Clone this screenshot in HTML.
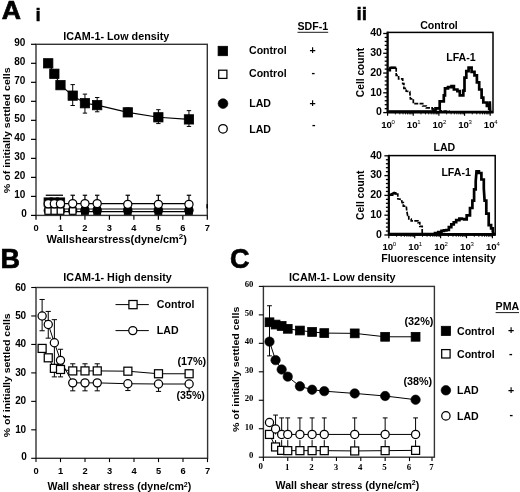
<!DOCTYPE html>
<html><head><meta charset="utf-8"><title>Figure</title>
<style>
html,body{margin:0;padding:0;background:#fff;}
body{width:520px;height:492px;overflow:hidden;font-family:"Liberation Sans", sans-serif;}
svg{display:block;filter:grayscale(1);}
</style></head><body>
<svg width="520" height="492" viewBox="0 0 520 492" shape-rendering="geometricPrecision">
<rect x="0" y="0" width="520" height="492" fill="#fff"/>
<text x="1.8" y="19.3" font-size="26.6" text-anchor="start" font-family='"Liberation Sans", sans-serif' font-weight="bold" stroke="#000" stroke-width="0.7">A</text>
<text x="35.4" y="20.7" font-size="19" text-anchor="start" font-family='"Liberation Sans", sans-serif' font-weight="bold" stroke="#000" stroke-width="0.4">i</text>
<text x="356.5" y="20" font-size="19.2" text-anchor="start" font-family='"Liberation Sans", sans-serif' font-weight="bold" stroke="#000" stroke-width="0.4">ii</text>
<text x="0.5" y="268" font-size="27" text-anchor="start" font-family='"Liberation Sans", sans-serif' font-weight="bold" stroke="#000" stroke-width="0.7">B</text>
<text x="230.1" y="267.6" font-size="27" text-anchor="start" font-family='"Liberation Sans", sans-serif' font-weight="bold" stroke="#000" stroke-width="0.7">C</text>
<line x1="72.71" y1="203.99" x2="72.71" y2="195.25" stroke="#000" stroke-width="1.2"/>
<line x1="70.51" y1="195.25" x2="74.91" y2="195.25" stroke="#000" stroke-width="1.2"/>
<line x1="84.94" y1="203.99" x2="84.94" y2="195.25" stroke="#000" stroke-width="1.2"/>
<line x1="82.74" y1="195.25" x2="87.14" y2="195.25" stroke="#000" stroke-width="1.2"/>
<line x1="97.18" y1="203.99" x2="97.18" y2="195.25" stroke="#000" stroke-width="1.2"/>
<line x1="94.98" y1="195.25" x2="99.38" y2="195.25" stroke="#000" stroke-width="1.2"/>
<line x1="127.77" y1="203.99" x2="127.77" y2="195.25" stroke="#000" stroke-width="1.2"/>
<line x1="125.57" y1="195.25" x2="129.97" y2="195.25" stroke="#000" stroke-width="1.2"/>
<line x1="158.36" y1="203.99" x2="158.36" y2="195.25" stroke="#000" stroke-width="1.2"/>
<line x1="156.16" y1="195.25" x2="160.56" y2="195.25" stroke="#000" stroke-width="1.2"/>
<line x1="188.95" y1="203.99" x2="188.95" y2="195.25" stroke="#000" stroke-width="1.2"/>
<line x1="186.75" y1="195.25" x2="191.15" y2="195.25" stroke="#000" stroke-width="1.2"/>
<line x1="45.74" y1="195.25" x2="62.97" y2="195.25" stroke="#000" stroke-width="1.3"/>
<polyline points="48.24,203.61 54.35,203.61 60.47,203.61 72.71,203.61 84.94,203.61 97.18,203.61 127.77,203.61 158.36,203.61 188.95,203.61" fill="none" stroke="#000" stroke-width="1.1"/>
<polyline points="48.24,208.94 54.35,208.94 60.47,208.94 72.71,208.94 84.94,208.94 97.18,208.94 127.77,208.94 158.36,208.94 188.95,208.94" fill="none" stroke="#000" stroke-width="1.1"/>
<polyline points="48.24,211.6 54.35,211.6 60.47,211.6 72.71,211.6 84.94,211.6 97.18,211.6 127.77,211.6 158.36,211.6 188.95,211.6" fill="none" stroke="#000" stroke-width="1.1"/>
<rect x="44.04" y="197.89" width="8.4" height="8.4" fill="#000" stroke="#000" stroke-width="0.8"/>
<rect x="50.15" y="197.89" width="8.4" height="8.4" fill="#000" stroke="#000" stroke-width="0.8"/>
<rect x="56.27" y="197.89" width="8.4" height="8.4" fill="#000" stroke="#000" stroke-width="0.8"/>
<circle cx="48.24" cy="210.46" r="4.3" fill="#000" stroke="#000" stroke-width="0.6"/>
<circle cx="54.35" cy="210.46" r="4.3" fill="#000" stroke="#000" stroke-width="0.6"/>
<circle cx="60.47" cy="210.46" r="4.3" fill="#000" stroke="#000" stroke-width="0.6"/>
<circle cx="72.71" cy="210.46" r="4.3" fill="#000" stroke="#000" stroke-width="0.6"/>
<rect x="44.94" y="207.73" width="6.6" height="6.6" fill="#fff" stroke="#000" stroke-width="1.25"/>
<rect x="51.05" y="207.73" width="6.6" height="6.6" fill="#fff" stroke="#000" stroke-width="1.25"/>
<rect x="57.17" y="207.73" width="6.6" height="6.6" fill="#fff" stroke="#000" stroke-width="1.25"/>
<rect x="69.41" y="207.73" width="6.6" height="6.6" fill="#fff" stroke="#000" stroke-width="1.25"/>
<rect x="81.64" y="207.73" width="6.6" height="6.6" fill="#fff" stroke="#000" stroke-width="1.25"/>
<rect x="93.88" y="207.73" width="6.6" height="6.6" fill="#fff" stroke="#000" stroke-width="1.25"/>
<rect x="124.47" y="207.73" width="6.6" height="6.6" fill="#fff" stroke="#000" stroke-width="1.25"/>
<rect x="155.06" y="207.73" width="6.6" height="6.6" fill="#fff" stroke="#000" stroke-width="1.25"/>
<rect x="185.65" y="207.73" width="6.6" height="6.6" fill="#fff" stroke="#000" stroke-width="1.25"/>
<circle cx="84.94" cy="210.27" r="4.4" fill="#000" stroke="#000" stroke-width="0.6"/>
<circle cx="97.18" cy="210.27" r="4.4" fill="#000" stroke="#000" stroke-width="0.6"/>
<circle cx="127.77" cy="210.27" r="4.4" fill="#000" stroke="#000" stroke-width="0.6"/>
<circle cx="158.36" cy="210.27" r="4.4" fill="#000" stroke="#000" stroke-width="0.6"/>
<circle cx="188.95" cy="210.27" r="4.4" fill="#000" stroke="#000" stroke-width="0.6"/>
<circle cx="48.24" cy="203.8" r="4.08" fill="#fff" stroke="#000" stroke-width="1.25"/>
<circle cx="54.35" cy="203.8" r="4.08" fill="#fff" stroke="#000" stroke-width="1.25"/>
<circle cx="60.47" cy="203.8" r="4.08" fill="#fff" stroke="#000" stroke-width="1.25"/>
<circle cx="72.71" cy="203.61" r="4.08" fill="#fff" stroke="#000" stroke-width="1.25"/>
<circle cx="84.94" cy="203.61" r="4.08" fill="#fff" stroke="#000" stroke-width="1.25"/>
<circle cx="97.18" cy="203.61" r="4.08" fill="#fff" stroke="#000" stroke-width="1.25"/>
<circle cx="127.77" cy="204.37" r="4.08" fill="#fff" stroke="#000" stroke-width="1.25"/>
<circle cx="158.36" cy="204.37" r="4.08" fill="#fff" stroke="#000" stroke-width="1.25"/>
<circle cx="188.95" cy="204.37" r="4.08" fill="#fff" stroke="#000" stroke-width="1.25"/>
<polyline points="48.24,63.31 54.35,73.77 60.47,85.17 72.71,95.63 84.94,103.23 97.18,105.14 127.77,112.36 158.36,117.3 188.95,119.39" fill="none" stroke="#000" stroke-width="1.1"/>
<line x1="72.71" y1="95.63" x2="72.71" y2="84.6" stroke="#000" stroke-width="1"/>
<line x1="70.51" y1="84.6" x2="74.91" y2="84.6" stroke="#000" stroke-width="1"/>
<line x1="72.71" y1="95.63" x2="72.71" y2="105.52" stroke="#000" stroke-width="1"/>
<line x1="70.51" y1="105.52" x2="74.91" y2="105.52" stroke="#000" stroke-width="1"/>
<line x1="84.94" y1="103.23" x2="84.94" y2="94.11" stroke="#000" stroke-width="1"/>
<line x1="82.74" y1="94.11" x2="87.14" y2="94.11" stroke="#000" stroke-width="1"/>
<line x1="84.94" y1="103.23" x2="84.94" y2="113.12" stroke="#000" stroke-width="1"/>
<line x1="82.74" y1="113.12" x2="87.14" y2="113.12" stroke="#000" stroke-width="1"/>
<line x1="97.18" y1="105.14" x2="97.18" y2="97.53" stroke="#000" stroke-width="1"/>
<line x1="94.98" y1="97.53" x2="99.38" y2="97.53" stroke="#000" stroke-width="1"/>
<line x1="97.18" y1="105.14" x2="97.18" y2="111.79" stroke="#000" stroke-width="1"/>
<line x1="94.98" y1="111.79" x2="99.38" y2="111.79" stroke="#000" stroke-width="1"/>
<line x1="127.77" y1="112.36" x2="127.77" y2="107.99" stroke="#000" stroke-width="1"/>
<line x1="125.57" y1="107.99" x2="129.97" y2="107.99" stroke="#000" stroke-width="1"/>
<line x1="158.36" y1="117.3" x2="158.36" y2="109.7" stroke="#000" stroke-width="1"/>
<line x1="156.16" y1="109.7" x2="160.56" y2="109.7" stroke="#000" stroke-width="1"/>
<line x1="158.36" y1="117.3" x2="158.36" y2="123.58" stroke="#000" stroke-width="1"/>
<line x1="156.16" y1="123.58" x2="160.56" y2="123.58" stroke="#000" stroke-width="1"/>
<line x1="188.95" y1="119.39" x2="188.95" y2="110.65" stroke="#000" stroke-width="1"/>
<line x1="186.75" y1="110.65" x2="191.15" y2="110.65" stroke="#000" stroke-width="1"/>
<line x1="188.95" y1="119.39" x2="188.95" y2="126.43" stroke="#000" stroke-width="1"/>
<line x1="186.75" y1="126.43" x2="191.15" y2="126.43" stroke="#000" stroke-width="1"/>
<rect x="43.59" y="58.66" width="9.3" height="9.3" fill="#000" stroke="#000" stroke-width="0.8"/>
<rect x="49.7" y="69.12" width="9.3" height="9.3" fill="#000" stroke="#000" stroke-width="0.8"/>
<rect x="55.82" y="80.52" width="9.3" height="9.3" fill="#000" stroke="#000" stroke-width="0.8"/>
<rect x="68.06" y="90.98" width="9.3" height="9.3" fill="#000" stroke="#000" stroke-width="0.8"/>
<rect x="80.29" y="98.58" width="9.3" height="9.3" fill="#000" stroke="#000" stroke-width="0.8"/>
<rect x="92.53" y="100.49" width="9.3" height="9.3" fill="#000" stroke="#000" stroke-width="0.8"/>
<rect x="123.12" y="107.71" width="9.3" height="9.3" fill="#000" stroke="#000" stroke-width="0.8"/>
<rect x="153.71" y="112.65" width="9.3" height="9.3" fill="#000" stroke="#000" stroke-width="0.8"/>
<rect x="184.3" y="114.74" width="9.3" height="9.3" fill="#000" stroke="#000" stroke-width="0.8"/>
<rect x="36" y="44.3" width="171.3" height="171.1" fill="none" stroke="#333" stroke-width="1.4"/>
<rect x="206.4" y="204.2" width="1.6" height="4.2" fill="#000" stroke="none" stroke-width="0"/>
<line x1="31" y1="215.4" x2="36" y2="215.4" stroke="#000" stroke-width="1.2"/>
<text x="26.9" y="216.7" font-size="10" text-anchor="end" font-family='"Liberation Sans", sans-serif' font-weight="bold">0</text>
<line x1="31" y1="196.39" x2="36" y2="196.39" stroke="#000" stroke-width="1.2"/>
<text x="25.3" y="197.69" font-size="10" text-anchor="end" font-family='"Liberation Sans", sans-serif' font-weight="bold">10</text>
<line x1="31" y1="177.38" x2="36" y2="177.38" stroke="#000" stroke-width="1.2"/>
<text x="25.3" y="178.68" font-size="10" text-anchor="end" font-family='"Liberation Sans", sans-serif' font-weight="bold">20</text>
<line x1="31" y1="158.37" x2="36" y2="158.37" stroke="#000" stroke-width="1.2"/>
<text x="25.3" y="159.67" font-size="10" text-anchor="end" font-family='"Liberation Sans", sans-serif' font-weight="bold">30</text>
<line x1="31" y1="139.36" x2="36" y2="139.36" stroke="#000" stroke-width="1.2"/>
<text x="25.3" y="140.66" font-size="10" text-anchor="end" font-family='"Liberation Sans", sans-serif' font-weight="bold">40</text>
<line x1="31" y1="120.34" x2="36" y2="120.34" stroke="#000" stroke-width="1.2"/>
<text x="25.3" y="121.64" font-size="10" text-anchor="end" font-family='"Liberation Sans", sans-serif' font-weight="bold">50</text>
<line x1="31" y1="101.33" x2="36" y2="101.33" stroke="#000" stroke-width="1.2"/>
<text x="25.3" y="102.63" font-size="10" text-anchor="end" font-family='"Liberation Sans", sans-serif' font-weight="bold">60</text>
<line x1="31" y1="82.32" x2="36" y2="82.32" stroke="#000" stroke-width="1.2"/>
<text x="25.3" y="83.62" font-size="10" text-anchor="end" font-family='"Liberation Sans", sans-serif' font-weight="bold">70</text>
<line x1="31" y1="63.31" x2="36" y2="63.31" stroke="#000" stroke-width="1.2"/>
<text x="25.3" y="64.61" font-size="10" text-anchor="end" font-family='"Liberation Sans", sans-serif' font-weight="bold">80</text>
<line x1="31" y1="44.3" x2="36" y2="44.3" stroke="#000" stroke-width="1.2"/>
<text x="25.3" y="45.6" font-size="10" text-anchor="end" font-family='"Liberation Sans", sans-serif' font-weight="bold">90</text>
<line x1="36" y1="215.4" x2="36" y2="219.7" stroke="#000" stroke-width="1.2"/>
<text x="36" y="231.2" font-size="9.3" text-anchor="middle" font-family='"Liberation Sans", sans-serif' font-weight="bold">0</text>
<line x1="60.47" y1="215.4" x2="60.47" y2="219.7" stroke="#000" stroke-width="1.2"/>
<text x="60.47" y="231.2" font-size="9.3" text-anchor="middle" font-family='"Liberation Sans", sans-serif' font-weight="bold">1</text>
<line x1="84.94" y1="215.4" x2="84.94" y2="219.7" stroke="#000" stroke-width="1.2"/>
<text x="84.94" y="231.2" font-size="9.3" text-anchor="middle" font-family='"Liberation Sans", sans-serif' font-weight="bold">2</text>
<line x1="109.41" y1="215.4" x2="109.41" y2="219.7" stroke="#000" stroke-width="1.2"/>
<text x="109.41" y="231.2" font-size="9.3" text-anchor="middle" font-family='"Liberation Sans", sans-serif' font-weight="bold">3</text>
<line x1="133.89" y1="215.4" x2="133.89" y2="219.7" stroke="#000" stroke-width="1.2"/>
<text x="133.89" y="231.2" font-size="9.3" text-anchor="middle" font-family='"Liberation Sans", sans-serif' font-weight="bold">4</text>
<line x1="158.36" y1="215.4" x2="158.36" y2="219.7" stroke="#000" stroke-width="1.2"/>
<text x="158.36" y="231.2" font-size="9.3" text-anchor="middle" font-family='"Liberation Sans", sans-serif' font-weight="bold">5</text>
<line x1="182.83" y1="215.4" x2="182.83" y2="219.7" stroke="#000" stroke-width="1.2"/>
<text x="182.83" y="231.2" font-size="9.3" text-anchor="middle" font-family='"Liberation Sans", sans-serif' font-weight="bold">6</text>
<line x1="207.3" y1="215.4" x2="207.3" y2="219.7" stroke="#000" stroke-width="1.2"/>
<text x="207.3" y="231.2" font-size="9.3" text-anchor="middle" font-family='"Liberation Sans", sans-serif' font-weight="bold">7</text>
<text x="116.3" y="40.3" font-size="10.3" text-anchor="middle" font-family='"Liberation Sans", sans-serif' font-weight="bold" textLength="106" lengthAdjust="spacingAndGlyphs">ICAM-1- Low density</text>
<text x="46.6" y="243" font-size="11" text-anchor="start" font-family='"Liberation Sans", sans-serif' font-weight="bold">Wallshearstress(dyne/cm<tspan font-size="8" dy="-4">2</tspan><tspan dy="4">)</tspan></text>
<text x="10.2" y="130.3" font-size="9.5" text-anchor="middle" font-family='"Liberation Sans", sans-serif' font-weight="bold" textLength="126" lengthAdjust="spacingAndGlyphs" transform="rotate(-90 10.2 130.3)">% of initially settled cells</text>
<text x="297.5" y="30.2" font-size="10.6" text-anchor="start" font-family='"Liberation Sans", sans-serif' font-weight="bold">SDF-1</text>
<line x1="297.5" y1="32.3" x2="328.2" y2="32.3" stroke="#000" stroke-width="0.9"/>
<rect x="218.1" y="46.3" width="9.4" height="9.4" fill="#000" stroke="#000" stroke-width="0.8"/>
<text x="249" y="54.2" font-size="10.6" text-anchor="start" font-family='"Liberation Sans", sans-serif' font-weight="bold">Control</text>
<text x="312.6" y="54.4" font-size="10.6" text-anchor="middle" font-family='"Liberation Sans", sans-serif' font-weight="bold">+</text>
<rect x="218.7" y="70.2" width="8.2" height="8.2" fill="#fff" stroke="#000" stroke-width="1.25"/>
<text x="249" y="77" font-size="10.6" text-anchor="start" font-family='"Liberation Sans", sans-serif' font-weight="bold">Control</text>
<text x="313.2" y="76.2" font-size="10.6" text-anchor="middle" font-family='"Liberation Sans", sans-serif' font-weight="bold">-</text>
<circle cx="223" cy="103.6" r="4.9" fill="#000" stroke="#000" stroke-width="0.6"/>
<text x="249.2" y="107.2" font-size="10.6" text-anchor="start" font-family='"Liberation Sans", sans-serif' font-weight="bold">LAD</text>
<text x="312.6" y="107" font-size="10.6" text-anchor="middle" font-family='"Liberation Sans", sans-serif' font-weight="bold">+</text>
<circle cx="223" cy="128.8" r="4.28" fill="#fff" stroke="#000" stroke-width="1.25"/>
<text x="249.2" y="133" font-size="10.6" text-anchor="start" font-family='"Liberation Sans", sans-serif' font-weight="bold">LAD</text>
<text x="313.8" y="127.6" font-size="10.6" text-anchor="middle" font-family='"Liberation Sans", sans-serif' font-weight="bold">-</text>
<polyline points="388.5,70.6 390.3,70.6 390.3,67.7 396.2,67.7 396.2,75.3 398.6,75.3 398.6,78.9 402.7,78.9 402.7,83.6 403.9,83.6 403.9,88.3 406.2,88.3 406.2,91.2 409.8,91.6 410.4,98.9 413.3,98.9 413.3,103.6 418,103.6 422.7,103.6 422.7,106 426.3,106 426.3,107.8 432.2,107.8 432.2,109 436.9,108.3 440,108.3 440,110.8 446,111.2 450,111.4" fill="none" stroke="#000" stroke-width="1.7" stroke-dasharray="4,1.3" stroke-linejoin="miter"/>
<polyline points="388.5,70.6 390.3,67.7 396.2,67.7" fill="none" stroke="#000" stroke-width="2.4"/>
<polyline points="388.5,111.6 430,111.6 433.5,111.6 433.5,110.5 435.5,110.5 435.5,108.3 439.7,108.3 439.7,101.3 443.8,101.3 443.8,95.4 445,95.4 445,88.3 448,88.3 448,87.1 451.5,87.1 451.5,86.2 453.9,86.2 453.9,89.5 457.4,89.5 457.4,91.2 459.8,91.2 459.8,95.4 463.3,95.4 463.3,90.7 464.5,90.7 464.5,77.7 466.3,77.7 466.3,71.2 468.6,71.2 468.6,67.7 471.6,67.7 471.6,71.8 474.5,71.8 474.5,75.3 476.9,75.3 476.9,82.4 479.2,82.4 479.2,89.5 481.6,89.5 481.6,97.7 483.3,97.7 483.3,102.5 486.9,102.5 486.9,106 489.2,106 489.2,110.1 489.8,101.3 490.2,112" fill="none" stroke="#000" stroke-width="2.7" stroke-linejoin="miter"/>
<rect x="387.6" y="32.4" width="105.4" height="80.2" fill="none" stroke="#000" stroke-width="1.5"/>
<line x1="387.6" y1="31.7" x2="387.6" y2="112.6" stroke="#000" stroke-width="2.1"/>
<line x1="387.6" y1="112" x2="493" y2="112" stroke="#000" stroke-width="2.6"/>
<line x1="383.2" y1="112.6" x2="387.6" y2="112.6" stroke="#000" stroke-width="1.3"/>
<line x1="384.7" y1="108.64" x2="387.6" y2="108.64" stroke="#000" stroke-width="1.3"/>
<line x1="384.7" y1="104.69" x2="387.6" y2="104.69" stroke="#000" stroke-width="1.3"/>
<line x1="384.7" y1="100.73" x2="387.6" y2="100.73" stroke="#000" stroke-width="1.3"/>
<line x1="384.7" y1="96.78" x2="387.6" y2="96.78" stroke="#000" stroke-width="1.3"/>
<line x1="383.2" y1="92.82" x2="387.6" y2="92.82" stroke="#000" stroke-width="1.3"/>
<line x1="384.7" y1="88.87" x2="387.6" y2="88.87" stroke="#000" stroke-width="1.3"/>
<line x1="384.7" y1="84.91" x2="387.6" y2="84.91" stroke="#000" stroke-width="1.3"/>
<line x1="384.7" y1="80.96" x2="387.6" y2="80.96" stroke="#000" stroke-width="1.3"/>
<line x1="384.7" y1="77" x2="387.6" y2="77" stroke="#000" stroke-width="1.3"/>
<line x1="383.2" y1="73.05" x2="387.6" y2="73.05" stroke="#000" stroke-width="1.3"/>
<line x1="384.7" y1="69.09" x2="387.6" y2="69.09" stroke="#000" stroke-width="1.3"/>
<line x1="384.7" y1="65.14" x2="387.6" y2="65.14" stroke="#000" stroke-width="1.3"/>
<line x1="384.7" y1="61.18" x2="387.6" y2="61.18" stroke="#000" stroke-width="1.3"/>
<line x1="384.7" y1="57.23" x2="387.6" y2="57.23" stroke="#000" stroke-width="1.3"/>
<line x1="383.2" y1="53.27" x2="387.6" y2="53.27" stroke="#000" stroke-width="1.3"/>
<line x1="384.7" y1="49.32" x2="387.6" y2="49.32" stroke="#000" stroke-width="1.3"/>
<line x1="384.7" y1="45.37" x2="387.6" y2="45.37" stroke="#000" stroke-width="1.3"/>
<line x1="384.7" y1="41.41" x2="387.6" y2="41.41" stroke="#000" stroke-width="1.3"/>
<line x1="384.7" y1="37.45" x2="387.6" y2="37.45" stroke="#000" stroke-width="1.3"/>
<line x1="383.2" y1="33.5" x2="387.6" y2="33.5" stroke="#000" stroke-width="1.3"/>
<text x="382" y="115.4" font-size="10.6" text-anchor="end" font-family='"Liberation Sans", sans-serif' font-weight="bold">0</text>
<text x="382" y="95.62" font-size="10.6" text-anchor="end" font-family='"Liberation Sans", sans-serif' font-weight="bold">10</text>
<text x="382" y="75.85" font-size="10.6" text-anchor="end" font-family='"Liberation Sans", sans-serif' font-weight="bold">20</text>
<text x="382" y="56.07" font-size="10.6" text-anchor="end" font-family='"Liberation Sans", sans-serif' font-weight="bold">30</text>
<text x="382" y="36.3" font-size="10.6" text-anchor="end" font-family='"Liberation Sans", sans-serif' font-weight="bold">40</text>
<line x1="387.6" y1="112.6" x2="387.6" y2="115.8" stroke="#000" stroke-width="1.2"/>
<line x1="395.32" y1="112.6" x2="395.32" y2="114.4" stroke="#000" stroke-width="0.9"/>
<line x1="399.84" y1="112.6" x2="399.84" y2="114.4" stroke="#000" stroke-width="0.9"/>
<line x1="403.04" y1="112.6" x2="403.04" y2="114.4" stroke="#000" stroke-width="0.9"/>
<line x1="405.53" y1="112.6" x2="405.53" y2="114.4" stroke="#000" stroke-width="0.9"/>
<line x1="407.56" y1="112.6" x2="407.56" y2="114.4" stroke="#000" stroke-width="0.9"/>
<line x1="409.28" y1="112.6" x2="409.28" y2="114.4" stroke="#000" stroke-width="0.9"/>
<line x1="410.76" y1="112.6" x2="410.76" y2="114.4" stroke="#000" stroke-width="0.9"/>
<line x1="412.08" y1="112.6" x2="412.08" y2="114.4" stroke="#000" stroke-width="0.9"/>
<text x="381.2" y="127.6" font-size="9.6" text-anchor="start" font-family='"Liberation Sans", sans-serif' font-weight="bold">10</text>
<text x="391.6" y="123.6" font-size="6" text-anchor="start" font-family='"Liberation Sans", sans-serif'>0</text>
<line x1="413.25" y1="112.6" x2="413.25" y2="115.8" stroke="#000" stroke-width="1.2"/>
<line x1="420.97" y1="112.6" x2="420.97" y2="114.4" stroke="#000" stroke-width="0.9"/>
<line x1="425.49" y1="112.6" x2="425.49" y2="114.4" stroke="#000" stroke-width="0.9"/>
<line x1="428.69" y1="112.6" x2="428.69" y2="114.4" stroke="#000" stroke-width="0.9"/>
<line x1="431.18" y1="112.6" x2="431.18" y2="114.4" stroke="#000" stroke-width="0.9"/>
<line x1="433.21" y1="112.6" x2="433.21" y2="114.4" stroke="#000" stroke-width="0.9"/>
<line x1="434.93" y1="112.6" x2="434.93" y2="114.4" stroke="#000" stroke-width="0.9"/>
<line x1="436.41" y1="112.6" x2="436.41" y2="114.4" stroke="#000" stroke-width="0.9"/>
<line x1="437.73" y1="112.6" x2="437.73" y2="114.4" stroke="#000" stroke-width="0.9"/>
<text x="406.85" y="127.6" font-size="9.6" text-anchor="start" font-family='"Liberation Sans", sans-serif' font-weight="bold">10</text>
<text x="417.25" y="123.6" font-size="6" text-anchor="start" font-family='"Liberation Sans", sans-serif'>1</text>
<line x1="438.9" y1="112.6" x2="438.9" y2="115.8" stroke="#000" stroke-width="1.2"/>
<line x1="446.62" y1="112.6" x2="446.62" y2="114.4" stroke="#000" stroke-width="0.9"/>
<line x1="451.14" y1="112.6" x2="451.14" y2="114.4" stroke="#000" stroke-width="0.9"/>
<line x1="454.34" y1="112.6" x2="454.34" y2="114.4" stroke="#000" stroke-width="0.9"/>
<line x1="456.83" y1="112.6" x2="456.83" y2="114.4" stroke="#000" stroke-width="0.9"/>
<line x1="458.86" y1="112.6" x2="458.86" y2="114.4" stroke="#000" stroke-width="0.9"/>
<line x1="460.58" y1="112.6" x2="460.58" y2="114.4" stroke="#000" stroke-width="0.9"/>
<line x1="462.06" y1="112.6" x2="462.06" y2="114.4" stroke="#000" stroke-width="0.9"/>
<line x1="463.38" y1="112.6" x2="463.38" y2="114.4" stroke="#000" stroke-width="0.9"/>
<text x="432.5" y="127.6" font-size="9.6" text-anchor="start" font-family='"Liberation Sans", sans-serif' font-weight="bold">10</text>
<text x="442.9" y="123.6" font-size="6" text-anchor="start" font-family='"Liberation Sans", sans-serif'>2</text>
<line x1="464.55" y1="112.6" x2="464.55" y2="115.8" stroke="#000" stroke-width="1.2"/>
<line x1="472.27" y1="112.6" x2="472.27" y2="114.4" stroke="#000" stroke-width="0.9"/>
<line x1="476.79" y1="112.6" x2="476.79" y2="114.4" stroke="#000" stroke-width="0.9"/>
<line x1="479.99" y1="112.6" x2="479.99" y2="114.4" stroke="#000" stroke-width="0.9"/>
<line x1="482.48" y1="112.6" x2="482.48" y2="114.4" stroke="#000" stroke-width="0.9"/>
<line x1="484.51" y1="112.6" x2="484.51" y2="114.4" stroke="#000" stroke-width="0.9"/>
<line x1="486.23" y1="112.6" x2="486.23" y2="114.4" stroke="#000" stroke-width="0.9"/>
<line x1="487.71" y1="112.6" x2="487.71" y2="114.4" stroke="#000" stroke-width="0.9"/>
<line x1="489.03" y1="112.6" x2="489.03" y2="114.4" stroke="#000" stroke-width="0.9"/>
<text x="458.15" y="127.6" font-size="9.6" text-anchor="start" font-family='"Liberation Sans", sans-serif' font-weight="bold">10</text>
<text x="468.55" y="123.6" font-size="6" text-anchor="start" font-family='"Liberation Sans", sans-serif'>3</text>
<line x1="490.2" y1="112.6" x2="490.2" y2="115.8" stroke="#000" stroke-width="1.2"/>
<text x="483.8" y="127.6" font-size="9.6" text-anchor="start" font-family='"Liberation Sans", sans-serif' font-weight="bold">10</text>
<text x="494.2" y="123.6" font-size="6" text-anchor="start" font-family='"Liberation Sans", sans-serif'>4</text>
<text x="439" y="29.4" font-size="10.6" text-anchor="middle" font-family='"Liberation Sans", sans-serif' font-weight="bold">Control</text>
<text x="446.2" y="61.4" font-size="10.6" text-anchor="start" font-family='"Liberation Sans", sans-serif' font-weight="bold">LFA-1</text>
<text x="364.4" y="72.5" font-size="10.2" text-anchor="middle" font-family='"Liberation Sans", sans-serif' font-weight="bold" transform="rotate(-90 364.4 72.5)">Cell count</text>
<polyline points="389.5,195.2 394.1,195.2 394.1,192.8 396.6,192.8 396.6,194 397.8,194 397.8,198.9 401.5,199.5 402.1,202.6 403.3,202.6 403.3,206.2 406.3,206.2 406.7,210.5 407.6,215.4 408.8,215.4 408.8,219 411.2,219 411.2,220.9 414.9,220.9 417.9,220.9 417.9,222.7 419.8,222.7 419.8,226.3 422.2,226.3 422.2,230 422.2,233.7 430,234 440,234" fill="none" stroke="#000" stroke-width="1.7" stroke-dasharray="4,1.3" stroke-linejoin="miter"/>
<polyline points="389.5,195.2 394.1,192.8 396.6,194" fill="none" stroke="#000" stroke-width="2.4"/>
<polyline points="389.5,234.2 435,234.2 435,233.2 438.25,233.2 438.25,232 441.5,232 441.5,230.8 443.95,230.8 443.95,230.4 446.4,230.4 446.4,230 448.85,230 448.85,227.15 451.3,227.15 451.3,224.3 453.75,224.3 453.75,222.25 456.2,222.25 456.2,220.2 459.4,220.2 459.4,218.6 461.85,218.6 461.85,219 464.3,219 464.3,219.4 466.7,219.4 466.7,215.3 470,215.3 470,208 472.4,208 472.4,200.7 474.1,200.7 474.1,189.3 475.7,189.3 475.7,181.2 476.5,171.4 478.9,171.4 478.9,173 481.4,173 481.4,179.5 483.8,179.5 483.8,188.5 484.6,200.7 486.3,200.7 486.3,213.7 488.7,213.7 488.7,225.1 491.1,225.1 491.1,228.3 492.8,228.3 492.8,231.6 493.5,234" fill="none" stroke="#000" stroke-width="2.7" stroke-linejoin="miter"/>
<rect x="388.8" y="155.6" width="106.4" height="79.4" fill="none" stroke="#000" stroke-width="1.5"/>
<line x1="388.8" y1="154.9" x2="388.8" y2="235" stroke="#000" stroke-width="2.1"/>
<line x1="388.8" y1="234.4" x2="495.2" y2="234.4" stroke="#000" stroke-width="2.6"/>
<line x1="384.4" y1="235" x2="388.8" y2="235" stroke="#000" stroke-width="1.3"/>
<line x1="385.9" y1="231.04" x2="388.8" y2="231.04" stroke="#000" stroke-width="1.3"/>
<line x1="385.9" y1="227.08" x2="388.8" y2="227.08" stroke="#000" stroke-width="1.3"/>
<line x1="385.9" y1="223.12" x2="388.8" y2="223.12" stroke="#000" stroke-width="1.3"/>
<line x1="385.9" y1="219.16" x2="388.8" y2="219.16" stroke="#000" stroke-width="1.3"/>
<line x1="384.4" y1="215.2" x2="388.8" y2="215.2" stroke="#000" stroke-width="1.3"/>
<line x1="385.9" y1="211.24" x2="388.8" y2="211.24" stroke="#000" stroke-width="1.3"/>
<line x1="385.9" y1="207.28" x2="388.8" y2="207.28" stroke="#000" stroke-width="1.3"/>
<line x1="385.9" y1="203.32" x2="388.8" y2="203.32" stroke="#000" stroke-width="1.3"/>
<line x1="385.9" y1="199.36" x2="388.8" y2="199.36" stroke="#000" stroke-width="1.3"/>
<line x1="384.4" y1="195.4" x2="388.8" y2="195.4" stroke="#000" stroke-width="1.3"/>
<line x1="385.9" y1="191.44" x2="388.8" y2="191.44" stroke="#000" stroke-width="1.3"/>
<line x1="385.9" y1="187.48" x2="388.8" y2="187.48" stroke="#000" stroke-width="1.3"/>
<line x1="385.9" y1="183.52" x2="388.8" y2="183.52" stroke="#000" stroke-width="1.3"/>
<line x1="385.9" y1="179.56" x2="388.8" y2="179.56" stroke="#000" stroke-width="1.3"/>
<line x1="384.4" y1="175.6" x2="388.8" y2="175.6" stroke="#000" stroke-width="1.3"/>
<line x1="385.9" y1="171.64" x2="388.8" y2="171.64" stroke="#000" stroke-width="1.3"/>
<line x1="385.9" y1="167.68" x2="388.8" y2="167.68" stroke="#000" stroke-width="1.3"/>
<line x1="385.9" y1="163.72" x2="388.8" y2="163.72" stroke="#000" stroke-width="1.3"/>
<line x1="385.9" y1="159.76" x2="388.8" y2="159.76" stroke="#000" stroke-width="1.3"/>
<line x1="384.4" y1="155.8" x2="388.8" y2="155.8" stroke="#000" stroke-width="1.3"/>
<text x="382" y="237.8" font-size="10.6" text-anchor="end" font-family='"Liberation Sans", sans-serif' font-weight="bold">0</text>
<text x="382" y="218" font-size="10.6" text-anchor="end" font-family='"Liberation Sans", sans-serif' font-weight="bold">10</text>
<text x="382" y="198.2" font-size="10.6" text-anchor="end" font-family='"Liberation Sans", sans-serif' font-weight="bold">20</text>
<text x="382" y="178.4" font-size="10.6" text-anchor="end" font-family='"Liberation Sans", sans-serif' font-weight="bold">30</text>
<text x="382" y="158.6" font-size="10.6" text-anchor="end" font-family='"Liberation Sans", sans-serif' font-weight="bold">40</text>
<line x1="388.8" y1="235" x2="388.8" y2="238.2" stroke="#000" stroke-width="1.2"/>
<line x1="396.6" y1="235" x2="396.6" y2="236.8" stroke="#000" stroke-width="0.9"/>
<line x1="401.16" y1="235" x2="401.16" y2="236.8" stroke="#000" stroke-width="0.9"/>
<line x1="404.39" y1="235" x2="404.39" y2="236.8" stroke="#000" stroke-width="0.9"/>
<line x1="406.9" y1="235" x2="406.9" y2="236.8" stroke="#000" stroke-width="0.9"/>
<line x1="408.95" y1="235" x2="408.95" y2="236.8" stroke="#000" stroke-width="0.9"/>
<line x1="410.69" y1="235" x2="410.69" y2="236.8" stroke="#000" stroke-width="0.9"/>
<line x1="412.19" y1="235" x2="412.19" y2="236.8" stroke="#000" stroke-width="0.9"/>
<line x1="413.51" y1="235" x2="413.51" y2="236.8" stroke="#000" stroke-width="0.9"/>
<text x="382.4" y="250" font-size="9.6" text-anchor="start" font-family='"Liberation Sans", sans-serif' font-weight="bold">10</text>
<text x="392.8" y="246" font-size="6" text-anchor="start" font-family='"Liberation Sans", sans-serif'>0</text>
<line x1="414.7" y1="235" x2="414.7" y2="238.2" stroke="#000" stroke-width="1.2"/>
<line x1="422.5" y1="235" x2="422.5" y2="236.8" stroke="#000" stroke-width="0.9"/>
<line x1="427.06" y1="235" x2="427.06" y2="236.8" stroke="#000" stroke-width="0.9"/>
<line x1="430.29" y1="235" x2="430.29" y2="236.8" stroke="#000" stroke-width="0.9"/>
<line x1="432.8" y1="235" x2="432.8" y2="236.8" stroke="#000" stroke-width="0.9"/>
<line x1="434.85" y1="235" x2="434.85" y2="236.8" stroke="#000" stroke-width="0.9"/>
<line x1="436.59" y1="235" x2="436.59" y2="236.8" stroke="#000" stroke-width="0.9"/>
<line x1="438.09" y1="235" x2="438.09" y2="236.8" stroke="#000" stroke-width="0.9"/>
<line x1="439.41" y1="235" x2="439.41" y2="236.8" stroke="#000" stroke-width="0.9"/>
<text x="408.3" y="250" font-size="9.6" text-anchor="start" font-family='"Liberation Sans", sans-serif' font-weight="bold">10</text>
<text x="418.7" y="246" font-size="6" text-anchor="start" font-family='"Liberation Sans", sans-serif'>1</text>
<line x1="440.6" y1="235" x2="440.6" y2="238.2" stroke="#000" stroke-width="1.2"/>
<line x1="448.4" y1="235" x2="448.4" y2="236.8" stroke="#000" stroke-width="0.9"/>
<line x1="452.96" y1="235" x2="452.96" y2="236.8" stroke="#000" stroke-width="0.9"/>
<line x1="456.19" y1="235" x2="456.19" y2="236.8" stroke="#000" stroke-width="0.9"/>
<line x1="458.7" y1="235" x2="458.7" y2="236.8" stroke="#000" stroke-width="0.9"/>
<line x1="460.75" y1="235" x2="460.75" y2="236.8" stroke="#000" stroke-width="0.9"/>
<line x1="462.49" y1="235" x2="462.49" y2="236.8" stroke="#000" stroke-width="0.9"/>
<line x1="463.99" y1="235" x2="463.99" y2="236.8" stroke="#000" stroke-width="0.9"/>
<line x1="465.31" y1="235" x2="465.31" y2="236.8" stroke="#000" stroke-width="0.9"/>
<text x="434.2" y="250" font-size="9.6" text-anchor="start" font-family='"Liberation Sans", sans-serif' font-weight="bold">10</text>
<text x="444.6" y="246" font-size="6" text-anchor="start" font-family='"Liberation Sans", sans-serif'>2</text>
<line x1="466.5" y1="235" x2="466.5" y2="238.2" stroke="#000" stroke-width="1.2"/>
<line x1="474.3" y1="235" x2="474.3" y2="236.8" stroke="#000" stroke-width="0.9"/>
<line x1="478.86" y1="235" x2="478.86" y2="236.8" stroke="#000" stroke-width="0.9"/>
<line x1="482.09" y1="235" x2="482.09" y2="236.8" stroke="#000" stroke-width="0.9"/>
<line x1="484.6" y1="235" x2="484.6" y2="236.8" stroke="#000" stroke-width="0.9"/>
<line x1="486.65" y1="235" x2="486.65" y2="236.8" stroke="#000" stroke-width="0.9"/>
<line x1="488.39" y1="235" x2="488.39" y2="236.8" stroke="#000" stroke-width="0.9"/>
<line x1="489.89" y1="235" x2="489.89" y2="236.8" stroke="#000" stroke-width="0.9"/>
<line x1="491.21" y1="235" x2="491.21" y2="236.8" stroke="#000" stroke-width="0.9"/>
<text x="460.1" y="250" font-size="9.6" text-anchor="start" font-family='"Liberation Sans", sans-serif' font-weight="bold">10</text>
<text x="470.5" y="246" font-size="6" text-anchor="start" font-family='"Liberation Sans", sans-serif'>3</text>
<line x1="492.4" y1="235" x2="492.4" y2="238.2" stroke="#000" stroke-width="1.2"/>
<text x="486" y="250" font-size="9.6" text-anchor="start" font-family='"Liberation Sans", sans-serif' font-weight="bold">10</text>
<text x="496.4" y="246" font-size="6" text-anchor="start" font-family='"Liberation Sans", sans-serif'>4</text>
<text x="444.4" y="151.4" font-size="10.6" text-anchor="middle" font-family='"Liberation Sans", sans-serif' font-weight="bold">LAD</text>
<text x="441.4" y="175.6" font-size="10.6" text-anchor="start" font-family='"Liberation Sans", sans-serif' font-weight="bold">LFA-1</text>
<text x="364.4" y="195.3" font-size="10.2" text-anchor="middle" font-family='"Liberation Sans", sans-serif' font-weight="bold" transform="rotate(-90 364.4 195.3)">Cell count</text>
<text x="438.6" y="262.2" font-size="10.6" text-anchor="middle" font-family='"Liberation Sans", sans-serif' font-weight="bold">Fluorescence intensity</text>
<line x1="42.12" y1="315.97" x2="42.12" y2="299.46" stroke="#000" stroke-width="1"/>
<line x1="39.52" y1="299.46" x2="44.73" y2="299.46" stroke="#000" stroke-width="1"/>
<line x1="42.12" y1="315.97" x2="42.12" y2="330.77" stroke="#000" stroke-width="1"/>
<line x1="39.52" y1="330.77" x2="44.73" y2="330.77" stroke="#000" stroke-width="1"/>
<line x1="48.25" y1="324.51" x2="48.25" y2="311.41" stroke="#000" stroke-width="1"/>
<line x1="45.65" y1="311.41" x2="50.85" y2="311.41" stroke="#000" stroke-width="1"/>
<line x1="48.25" y1="324.51" x2="48.25" y2="338.17" stroke="#000" stroke-width="1"/>
<line x1="45.65" y1="338.17" x2="50.85" y2="338.17" stroke="#000" stroke-width="1"/>
<line x1="54.38" y1="342.73" x2="54.38" y2="319.67" stroke="#000" stroke-width="1"/>
<line x1="51.77" y1="319.67" x2="56.98" y2="319.67" stroke="#000" stroke-width="1"/>
<line x1="54.38" y1="342.73" x2="54.38" y2="370.05" stroke="#000" stroke-width="1"/>
<line x1="51.77" y1="370.05" x2="56.98" y2="370.05" stroke="#000" stroke-width="1"/>
<line x1="60.5" y1="360.37" x2="60.5" y2="349.27" stroke="#000" stroke-width="1"/>
<line x1="57.9" y1="349.27" x2="63.1" y2="349.27" stroke="#000" stroke-width="1"/>
<line x1="54.38" y1="368.35" x2="54.38" y2="376.89" stroke="#000" stroke-width="1"/>
<line x1="51.77" y1="376.89" x2="56.98" y2="376.89" stroke="#000" stroke-width="1"/>
<line x1="60.5" y1="369.48" x2="60.5" y2="376.89" stroke="#000" stroke-width="1"/>
<line x1="57.9" y1="376.89" x2="63.1" y2="376.89" stroke="#000" stroke-width="1"/>
<line x1="72.75" y1="370.91" x2="72.75" y2="363.79" stroke="#000" stroke-width="1"/>
<line x1="70.15" y1="363.79" x2="75.35" y2="363.79" stroke="#000" stroke-width="1"/>
<line x1="72.75" y1="382.86" x2="72.75" y2="390.83" stroke="#000" stroke-width="1"/>
<line x1="70.15" y1="390.83" x2="75.35" y2="390.83" stroke="#000" stroke-width="1"/>
<line x1="85" y1="370.91" x2="85" y2="363.79" stroke="#000" stroke-width="1"/>
<line x1="82.4" y1="363.79" x2="87.6" y2="363.79" stroke="#000" stroke-width="1"/>
<line x1="85" y1="382.86" x2="85" y2="390.83" stroke="#000" stroke-width="1"/>
<line x1="82.4" y1="390.83" x2="87.6" y2="390.83" stroke="#000" stroke-width="1"/>
<line x1="97.25" y1="370.91" x2="97.25" y2="363.79" stroke="#000" stroke-width="1"/>
<line x1="94.65" y1="363.79" x2="99.85" y2="363.79" stroke="#000" stroke-width="1"/>
<line x1="97.25" y1="382.86" x2="97.25" y2="390.83" stroke="#000" stroke-width="1"/>
<line x1="94.65" y1="390.83" x2="99.85" y2="390.83" stroke="#000" stroke-width="1"/>
<line x1="127.88" y1="383.72" x2="127.88" y2="390.55" stroke="#000" stroke-width="1"/>
<line x1="125.28" y1="390.55" x2="130.47" y2="390.55" stroke="#000" stroke-width="1"/>
<line x1="158.5" y1="384" x2="158.5" y2="391.4" stroke="#000" stroke-width="1"/>
<line x1="155.9" y1="391.4" x2="161.1" y2="391.4" stroke="#000" stroke-width="1"/>
<line x1="189.12" y1="384" x2="189.12" y2="391.4" stroke="#000" stroke-width="1"/>
<line x1="186.53" y1="391.4" x2="191.72" y2="391.4" stroke="#000" stroke-width="1"/>
<polyline points="42.12,348.42 48.25,357.81 54.38,368.35 60.5,369.48 72.75,370.91 85,370.91 97.25,370.91 127.88,371.19 158.5,373.75 189.12,373.75" fill="none" stroke="#000" stroke-width="1"/>
<polyline points="42.12,315.97 48.25,324.51 54.38,342.73 60.5,360.37 72.75,382.86 85,382.86 97.25,382.86 127.88,383.72 158.5,384 189.12,384" fill="none" stroke="#000" stroke-width="1"/>
<rect x="38.12" y="344.42" width="8" height="8" fill="#fff" stroke="#000" stroke-width="1.25"/>
<rect x="44.25" y="353.81" width="8" height="8" fill="#fff" stroke="#000" stroke-width="1.25"/>
<rect x="50.38" y="364.35" width="8" height="8" fill="#fff" stroke="#000" stroke-width="1.25"/>
<rect x="56.5" y="365.48" width="8" height="8" fill="#fff" stroke="#000" stroke-width="1.25"/>
<rect x="68.75" y="366.91" width="8" height="8" fill="#fff" stroke="#000" stroke-width="1.25"/>
<rect x="81" y="366.91" width="8" height="8" fill="#fff" stroke="#000" stroke-width="1.25"/>
<rect x="93.25" y="366.91" width="8" height="8" fill="#fff" stroke="#000" stroke-width="1.25"/>
<rect x="123.88" y="367.19" width="8" height="8" fill="#fff" stroke="#000" stroke-width="1.25"/>
<rect x="154.5" y="369.75" width="8" height="8" fill="#fff" stroke="#000" stroke-width="1.25"/>
<rect x="185.12" y="369.75" width="8" height="8" fill="#fff" stroke="#000" stroke-width="1.25"/>
<circle cx="42.12" cy="315.97" r="4.08" fill="#fff" stroke="#000" stroke-width="1.25"/>
<circle cx="48.25" cy="324.51" r="4.08" fill="#fff" stroke="#000" stroke-width="1.25"/>
<circle cx="54.38" cy="342.73" r="4.08" fill="#fff" stroke="#000" stroke-width="1.25"/>
<circle cx="60.5" cy="360.37" r="4.08" fill="#fff" stroke="#000" stroke-width="1.25"/>
<circle cx="72.75" cy="382.86" r="4.08" fill="#fff" stroke="#000" stroke-width="1.25"/>
<circle cx="85" cy="382.86" r="4.08" fill="#fff" stroke="#000" stroke-width="1.25"/>
<circle cx="97.25" cy="382.86" r="4.08" fill="#fff" stroke="#000" stroke-width="1.25"/>
<circle cx="127.88" cy="383.72" r="4.08" fill="#fff" stroke="#000" stroke-width="1.25"/>
<circle cx="158.5" cy="384" r="4.08" fill="#fff" stroke="#000" stroke-width="1.25"/>
<circle cx="189.12" cy="384" r="4.08" fill="#fff" stroke="#000" stroke-width="1.25"/>
<rect x="36" y="287.5" width="171.6" height="170.8" fill="none" stroke="#333" stroke-width="1.4"/>
<line x1="31.2" y1="458.3" x2="36" y2="458.3" stroke="#000" stroke-width="1.1"/>
<text x="26.4" y="460.1" font-size="10" text-anchor="end" font-family='"Liberation Sans", sans-serif' font-weight="bold" letter-spacing="-0.3">0</text>
<line x1="31.2" y1="429.83" x2="36" y2="429.83" stroke="#000" stroke-width="1.1"/>
<text x="25.9" y="432.83" font-size="10" text-anchor="end" font-family='"Liberation Sans", sans-serif' font-weight="bold" letter-spacing="-0.3">10</text>
<line x1="31.2" y1="401.37" x2="36" y2="401.37" stroke="#000" stroke-width="1.1"/>
<text x="25.9" y="404.37" font-size="10" text-anchor="end" font-family='"Liberation Sans", sans-serif' font-weight="bold" letter-spacing="-0.3">20</text>
<line x1="31.2" y1="372.9" x2="36" y2="372.9" stroke="#000" stroke-width="1.1"/>
<text x="25.9" y="375.9" font-size="10" text-anchor="end" font-family='"Liberation Sans", sans-serif' font-weight="bold" letter-spacing="-0.3">30</text>
<line x1="31.2" y1="344.43" x2="36" y2="344.43" stroke="#000" stroke-width="1.1"/>
<text x="25.9" y="347.43" font-size="10" text-anchor="end" font-family='"Liberation Sans", sans-serif' font-weight="bold" letter-spacing="-0.3">40</text>
<line x1="31.2" y1="315.97" x2="36" y2="315.97" stroke="#000" stroke-width="1.1"/>
<text x="25.9" y="318.97" font-size="10" text-anchor="end" font-family='"Liberation Sans", sans-serif' font-weight="bold" letter-spacing="-0.3">50</text>
<line x1="31.2" y1="287.5" x2="36" y2="287.5" stroke="#000" stroke-width="1.1"/>
<text x="25.9" y="290.5" font-size="10" text-anchor="end" font-family='"Liberation Sans", sans-serif' font-weight="bold" letter-spacing="-0.3">60</text>
<line x1="36" y1="458.3" x2="36" y2="462.1" stroke="#000" stroke-width="1.1"/>
<text x="36" y="473.7" font-size="9.3" text-anchor="middle" font-family='"Liberation Sans", sans-serif' font-weight="bold">0</text>
<line x1="60.5" y1="458.3" x2="60.5" y2="462.1" stroke="#000" stroke-width="1.1"/>
<text x="60.5" y="473.7" font-size="9.3" text-anchor="middle" font-family='"Liberation Sans", sans-serif' font-weight="bold">1</text>
<line x1="85" y1="458.3" x2="85" y2="462.1" stroke="#000" stroke-width="1.1"/>
<text x="85" y="473.7" font-size="9.3" text-anchor="middle" font-family='"Liberation Sans", sans-serif' font-weight="bold">2</text>
<line x1="109.5" y1="458.3" x2="109.5" y2="462.1" stroke="#000" stroke-width="1.1"/>
<text x="109.5" y="473.7" font-size="9.3" text-anchor="middle" font-family='"Liberation Sans", sans-serif' font-weight="bold">3</text>
<line x1="134" y1="458.3" x2="134" y2="462.1" stroke="#000" stroke-width="1.1"/>
<text x="134" y="473.7" font-size="9.3" text-anchor="middle" font-family='"Liberation Sans", sans-serif' font-weight="bold">4</text>
<line x1="158.5" y1="458.3" x2="158.5" y2="462.1" stroke="#000" stroke-width="1.1"/>
<text x="158.5" y="473.7" font-size="9.3" text-anchor="middle" font-family='"Liberation Sans", sans-serif' font-weight="bold">5</text>
<line x1="183" y1="458.3" x2="183" y2="462.1" stroke="#000" stroke-width="1.1"/>
<text x="183" y="473.7" font-size="9.3" text-anchor="middle" font-family='"Liberation Sans", sans-serif' font-weight="bold">6</text>
<line x1="207.5" y1="458.3" x2="207.5" y2="462.1" stroke="#000" stroke-width="1.1"/>
<text x="207.5" y="473.7" font-size="9.3" text-anchor="middle" font-family='"Liberation Sans", sans-serif' font-weight="bold">7</text>
<text x="117.6" y="281.3" font-size="10.3" text-anchor="middle" font-family='"Liberation Sans", sans-serif' font-weight="bold" textLength="108.5" lengthAdjust="spacingAndGlyphs">ICAM-1- High density</text>
<text x="47.6" y="490.4" font-size="10.6" text-anchor="start" font-family='"Liberation Sans", sans-serif' font-weight="bold">Wall shear stress (dyne/cm<tspan font-size="7" dy="-3.5">2</tspan><tspan dy="3.5">)</tspan></text>
<text x="9.8" y="375.3" font-size="9.5" text-anchor="middle" font-family='"Liberation Sans", sans-serif' font-weight="bold" textLength="123.8" lengthAdjust="spacingAndGlyphs" transform="rotate(-90 9.8 375.3)">% of initially settled cells</text>
<line x1="115.5" y1="304.6" x2="148.8" y2="304.6" stroke="#000" stroke-width="1"/>
<rect x="128.9" y="300.5" width="8.2" height="8.2" fill="#fff" stroke="#000" stroke-width="1.25"/>
<text x="156.8" y="308.2" font-size="10.6" text-anchor="start" font-family='"Liberation Sans", sans-serif' font-weight="bold">Control</text>
<line x1="115.5" y1="330.6" x2="148.8" y2="330.6" stroke="#000" stroke-width="1"/>
<circle cx="132.8" cy="330.6" r="4.08" fill="#fff" stroke="#000" stroke-width="1.25"/>
<text x="156.8" y="334.4" font-size="10.6" text-anchor="start" font-family='"Liberation Sans", sans-serif' font-weight="bold">LAD</text>
<text x="177.4" y="364.6" font-size="10.8" text-anchor="start" font-family='"Liberation Sans", sans-serif' font-weight="bold">(17%)</text>
<text x="176.6" y="398.8" font-size="10.6" text-anchor="start" font-family='"Liberation Sans", sans-serif' font-weight="bold">(35%)</text>
<line x1="269.49" y1="322.27" x2="269.49" y2="305.76" stroke="#000" stroke-width="1"/>
<line x1="267.09" y1="305.76" x2="271.89" y2="305.76" stroke="#000" stroke-width="1"/>
<line x1="269.49" y1="341.63" x2="269.49" y2="355.86" stroke="#000" stroke-width="1"/>
<line x1="267.09" y1="355.86" x2="271.89" y2="355.86" stroke="#000" stroke-width="1"/>
<line x1="269.49" y1="322.27" x2="269.49" y2="341.63" stroke="#000" stroke-width="1"/>
<line x1="275.57" y1="434.43" x2="275.57" y2="415.07" stroke="#000" stroke-width="1"/>
<line x1="273.18" y1="415.07" x2="277.97" y2="415.07" stroke="#000" stroke-width="1"/>
<line x1="281.66" y1="434.43" x2="281.66" y2="417.92" stroke="#000" stroke-width="1"/>
<line x1="279.26" y1="417.92" x2="284.06" y2="417.92" stroke="#000" stroke-width="1"/>
<line x1="287.75" y1="434.43" x2="287.75" y2="417.92" stroke="#000" stroke-width="1"/>
<line x1="285.35" y1="417.92" x2="290.15" y2="417.92" stroke="#000" stroke-width="1"/>
<line x1="299.92" y1="434.43" x2="299.92" y2="417.92" stroke="#000" stroke-width="1"/>
<line x1="297.52" y1="417.92" x2="302.32" y2="417.92" stroke="#000" stroke-width="1"/>
<line x1="312.1" y1="434.43" x2="312.1" y2="417.92" stroke="#000" stroke-width="1"/>
<line x1="309.7" y1="417.92" x2="314.5" y2="417.92" stroke="#000" stroke-width="1"/>
<line x1="324.27" y1="434.43" x2="324.27" y2="417.92" stroke="#000" stroke-width="1"/>
<line x1="321.88" y1="417.92" x2="326.67" y2="417.92" stroke="#000" stroke-width="1"/>
<line x1="354.71" y1="434.43" x2="354.71" y2="417.92" stroke="#000" stroke-width="1"/>
<line x1="352.31" y1="417.92" x2="357.11" y2="417.92" stroke="#000" stroke-width="1"/>
<line x1="385.15" y1="434.43" x2="385.15" y2="417.92" stroke="#000" stroke-width="1"/>
<line x1="382.75" y1="417.92" x2="387.55" y2="417.92" stroke="#000" stroke-width="1"/>
<line x1="415.59" y1="434.43" x2="415.59" y2="417.92" stroke="#000" stroke-width="1"/>
<line x1="413.19" y1="417.92" x2="417.99" y2="417.92" stroke="#000" stroke-width="1"/>
<line x1="275.57" y1="450.65" x2="275.57" y2="440.12" stroke="#000" stroke-width="1"/>
<line x1="275.57" y1="440.12" x2="275.57" y2="440.12" stroke="#000" stroke-width="1"/>
<line x1="281.66" y1="450.65" x2="281.66" y2="440.12" stroke="#000" stroke-width="1"/>
<line x1="281.66" y1="440.12" x2="281.66" y2="440.12" stroke="#000" stroke-width="1"/>
<line x1="287.75" y1="450.65" x2="287.75" y2="440.12" stroke="#000" stroke-width="1"/>
<line x1="287.75" y1="440.12" x2="287.75" y2="440.12" stroke="#000" stroke-width="1"/>
<line x1="299.92" y1="450.65" x2="299.92" y2="440.12" stroke="#000" stroke-width="1"/>
<line x1="299.92" y1="440.12" x2="299.92" y2="440.12" stroke="#000" stroke-width="1"/>
<line x1="312.1" y1="450.65" x2="312.1" y2="440.12" stroke="#000" stroke-width="1"/>
<line x1="312.1" y1="440.12" x2="312.1" y2="440.12" stroke="#000" stroke-width="1"/>
<line x1="324.27" y1="450.65" x2="324.27" y2="440.12" stroke="#000" stroke-width="1"/>
<line x1="324.27" y1="440.12" x2="324.27" y2="440.12" stroke="#000" stroke-width="1"/>
<line x1="354.71" y1="450.65" x2="354.71" y2="440.12" stroke="#000" stroke-width="1"/>
<line x1="354.71" y1="440.12" x2="354.71" y2="440.12" stroke="#000" stroke-width="1"/>
<line x1="385.15" y1="450.65" x2="385.15" y2="440.12" stroke="#000" stroke-width="1"/>
<line x1="385.15" y1="440.12" x2="385.15" y2="440.12" stroke="#000" stroke-width="1"/>
<line x1="415.59" y1="450.65" x2="415.59" y2="440.12" stroke="#000" stroke-width="1"/>
<line x1="415.59" y1="440.12" x2="415.59" y2="440.12" stroke="#000" stroke-width="1"/>
<polyline points="269.49,322.27 275.57,324.55 281.66,325.97 287.75,328.82 299.92,330.52 312.1,331.95 324.27,333.09 354.71,333.37 385.15,336.79 415.59,336.79" fill="none" stroke="#000" stroke-width="1"/>
<polyline points="269.49,341.63 275.57,360.13 281.66,369.52 287.75,376.64 299.92,386.32 312.1,389.73 324.27,391.16 354.71,393.43 385.15,396 415.59,399.7" fill="none" stroke="#000" stroke-width="1"/>
<polyline points="269.49,422.47 275.57,429.02 281.66,434.43 287.75,434.43 299.92,434.43 312.1,434.43 324.27,434.43 354.71,434.43 385.15,434.43 415.59,434.43" fill="none" stroke="#000" stroke-width="1"/>
<polyline points="269.49,434.43 275.57,446.95 281.66,450.37 287.75,450.65 299.92,450.65 312.1,450.65 324.27,450.65 354.71,450.94 385.15,450.65 415.59,450.37" fill="none" stroke="#000" stroke-width="1"/>
<rect x="265.09" y="317.87" width="8.8" height="8.8" fill="#000" stroke="#000" stroke-width="0.8"/>
<rect x="271.18" y="320.15" width="8.8" height="8.8" fill="#000" stroke="#000" stroke-width="0.8"/>
<rect x="277.26" y="321.57" width="8.8" height="8.8" fill="#000" stroke="#000" stroke-width="0.8"/>
<rect x="283.35" y="324.42" width="8.8" height="8.8" fill="#000" stroke="#000" stroke-width="0.8"/>
<rect x="295.52" y="326.12" width="8.8" height="8.8" fill="#000" stroke="#000" stroke-width="0.8"/>
<rect x="307.7" y="327.55" width="8.8" height="8.8" fill="#000" stroke="#000" stroke-width="0.8"/>
<rect x="319.88" y="328.69" width="8.8" height="8.8" fill="#000" stroke="#000" stroke-width="0.8"/>
<rect x="350.31" y="328.97" width="8.8" height="8.8" fill="#000" stroke="#000" stroke-width="0.8"/>
<rect x="380.75" y="332.39" width="8.8" height="8.8" fill="#000" stroke="#000" stroke-width="0.8"/>
<rect x="411.19" y="332.39" width="8.8" height="8.8" fill="#000" stroke="#000" stroke-width="0.8"/>
<circle cx="269.49" cy="341.63" r="4.7" fill="#000" stroke="#000" stroke-width="0.6"/>
<circle cx="275.57" cy="360.13" r="4.7" fill="#000" stroke="#000" stroke-width="0.6"/>
<circle cx="281.66" cy="369.52" r="4.7" fill="#000" stroke="#000" stroke-width="0.6"/>
<circle cx="287.75" cy="376.64" r="4.7" fill="#000" stroke="#000" stroke-width="0.6"/>
<circle cx="299.92" cy="386.32" r="4.7" fill="#000" stroke="#000" stroke-width="0.6"/>
<circle cx="312.1" cy="389.73" r="4.7" fill="#000" stroke="#000" stroke-width="0.6"/>
<circle cx="324.27" cy="391.16" r="4.7" fill="#000" stroke="#000" stroke-width="0.6"/>
<circle cx="354.71" cy="393.43" r="4.7" fill="#000" stroke="#000" stroke-width="0.6"/>
<circle cx="385.15" cy="396" r="4.7" fill="#000" stroke="#000" stroke-width="0.6"/>
<circle cx="415.59" cy="399.7" r="4.7" fill="#000" stroke="#000" stroke-width="0.6"/>
<rect x="265.49" y="430.43" width="8" height="8" fill="#fff" stroke="#000" stroke-width="1.25"/>
<rect x="271.57" y="442.95" width="8" height="8" fill="#fff" stroke="#000" stroke-width="1.25"/>
<rect x="277.66" y="446.37" width="8" height="8" fill="#fff" stroke="#000" stroke-width="1.25"/>
<rect x="283.75" y="446.65" width="8" height="8" fill="#fff" stroke="#000" stroke-width="1.25"/>
<rect x="295.92" y="446.65" width="8" height="8" fill="#fff" stroke="#000" stroke-width="1.25"/>
<rect x="308.1" y="446.65" width="8" height="8" fill="#fff" stroke="#000" stroke-width="1.25"/>
<rect x="320.27" y="446.65" width="8" height="8" fill="#fff" stroke="#000" stroke-width="1.25"/>
<rect x="350.71" y="446.94" width="8" height="8" fill="#fff" stroke="#000" stroke-width="1.25"/>
<rect x="381.15" y="446.65" width="8" height="8" fill="#fff" stroke="#000" stroke-width="1.25"/>
<rect x="411.59" y="446.37" width="8" height="8" fill="#fff" stroke="#000" stroke-width="1.25"/>
<circle cx="269.49" cy="422.47" r="4.08" fill="#fff" stroke="#000" stroke-width="1.25"/>
<circle cx="275.57" cy="429.02" r="4.08" fill="#fff" stroke="#000" stroke-width="1.25"/>
<circle cx="281.66" cy="434.43" r="4.08" fill="#fff" stroke="#000" stroke-width="1.25"/>
<circle cx="287.75" cy="434.43" r="4.08" fill="#fff" stroke="#000" stroke-width="1.25"/>
<circle cx="299.92" cy="434.43" r="4.08" fill="#fff" stroke="#000" stroke-width="1.25"/>
<circle cx="312.1" cy="434.43" r="4.08" fill="#fff" stroke="#000" stroke-width="1.25"/>
<circle cx="324.27" cy="434.43" r="4.08" fill="#fff" stroke="#000" stroke-width="1.25"/>
<circle cx="354.71" cy="434.43" r="4.08" fill="#fff" stroke="#000" stroke-width="1.25"/>
<circle cx="385.15" cy="434.43" r="4.08" fill="#fff" stroke="#000" stroke-width="1.25"/>
<circle cx="415.59" cy="434.43" r="4.08" fill="#fff" stroke="#000" stroke-width="1.25"/>
<rect x="263.4" y="286.4" width="171" height="170.8" fill="none" stroke="#333" stroke-width="1.4"/>
<line x1="258.8" y1="457.2" x2="263.4" y2="457.2" stroke="#000" stroke-width="1.1"/>
<text x="253.4" y="458.2" font-size="8.7" text-anchor="end" font-family='"Liberation Serif", serif' font-weight="bold">0</text>
<line x1="258.8" y1="428.73" x2="263.4" y2="428.73" stroke="#000" stroke-width="1.1"/>
<text x="253.4" y="429.73" font-size="8.7" text-anchor="end" font-family='"Liberation Serif", serif' font-weight="bold">10</text>
<line x1="258.8" y1="400.27" x2="263.4" y2="400.27" stroke="#000" stroke-width="1.1"/>
<text x="253.4" y="401.27" font-size="8.7" text-anchor="end" font-family='"Liberation Serif", serif' font-weight="bold">20</text>
<line x1="258.8" y1="371.8" x2="263.4" y2="371.8" stroke="#000" stroke-width="1.1"/>
<text x="253.4" y="372.8" font-size="8.7" text-anchor="end" font-family='"Liberation Serif", serif' font-weight="bold">30</text>
<line x1="258.8" y1="343.33" x2="263.4" y2="343.33" stroke="#000" stroke-width="1.1"/>
<text x="253.4" y="344.33" font-size="8.7" text-anchor="end" font-family='"Liberation Serif", serif' font-weight="bold">40</text>
<line x1="258.8" y1="314.87" x2="263.4" y2="314.87" stroke="#000" stroke-width="1.1"/>
<text x="253.4" y="315.87" font-size="8.7" text-anchor="end" font-family='"Liberation Serif", serif' font-weight="bold">50</text>
<line x1="258.8" y1="286.4" x2="263.4" y2="286.4" stroke="#000" stroke-width="1.1"/>
<text x="253.4" y="287.4" font-size="8.7" text-anchor="end" font-family='"Liberation Serif", serif' font-weight="bold">60</text>
<line x1="263.4" y1="457.2" x2="263.4" y2="461.1" stroke="#000" stroke-width="1.1"/>
<text x="260.6" y="469.2" font-size="8.9" text-anchor="middle" font-family='"Liberation Serif", serif' font-weight="bold">0</text>
<line x1="287.75" y1="457.2" x2="287.75" y2="461.1" stroke="#000" stroke-width="1.1"/>
<text x="287.15" y="470.4" font-size="8.9" text-anchor="middle" font-family='"Liberation Serif", serif' font-weight="bold">1</text>
<line x1="312.1" y1="457.2" x2="312.1" y2="461.1" stroke="#000" stroke-width="1.1"/>
<text x="311.5" y="470.4" font-size="8.9" text-anchor="middle" font-family='"Liberation Serif", serif' font-weight="bold">2</text>
<line x1="336.45" y1="457.2" x2="336.45" y2="461.1" stroke="#000" stroke-width="1.1"/>
<text x="335.85" y="470.4" font-size="8.9" text-anchor="middle" font-family='"Liberation Serif", serif' font-weight="bold">3</text>
<line x1="360.8" y1="457.2" x2="360.8" y2="461.1" stroke="#000" stroke-width="1.1"/>
<text x="360.2" y="470.4" font-size="8.9" text-anchor="middle" font-family='"Liberation Serif", serif' font-weight="bold">4</text>
<line x1="385.15" y1="457.2" x2="385.15" y2="461.1" stroke="#000" stroke-width="1.1"/>
<text x="384.55" y="470.4" font-size="8.9" text-anchor="middle" font-family='"Liberation Serif", serif' font-weight="bold">5</text>
<line x1="409.5" y1="457.2" x2="409.5" y2="461.1" stroke="#000" stroke-width="1.1"/>
<text x="408.9" y="470.4" font-size="8.9" text-anchor="middle" font-family='"Liberation Serif", serif' font-weight="bold">6</text>
<line x1="432" y1="457.2" x2="432" y2="461.1" stroke="#000" stroke-width="1.1"/>
<text x="431.4" y="470.4" font-size="8.9" text-anchor="middle" font-family='"Liberation Serif", serif' font-weight="bold">7</text>
<text x="342.3" y="280.8" font-size="10.3" text-anchor="middle" font-family='"Liberation Sans", sans-serif' font-weight="bold" textLength="106.5" lengthAdjust="spacingAndGlyphs">ICAM-1- Low density</text>
<text x="275.6" y="488.6" font-size="10.6" text-anchor="start" font-family='"Liberation Sans", sans-serif' font-weight="bold">Wall shear stress (dyne/cm<tspan font-size="7" dy="-3.5">2</tspan><tspan dy="3.5">)</tspan></text>
<text x="239.4" y="369.4" font-size="9.5" text-anchor="middle" font-family='"Liberation Sans", sans-serif' font-weight="bold" textLength="125.4" lengthAdjust="spacingAndGlyphs" transform="rotate(-90 239.4 369.4)">% of initially settled cells</text>
<text x="404.4" y="325" font-size="10.9" text-anchor="start" font-family='"Liberation Sans", sans-serif' font-weight="bold">(32%)</text>
<text x="403.4" y="385.4" font-size="10.8" text-anchor="start" font-family='"Liberation Sans", sans-serif' font-weight="bold">(38%)</text>
<text x="495.6" y="310.2" font-size="10.6" text-anchor="start" font-family='"Liberation Sans", sans-serif' font-weight="bold">PMA</text>
<line x1="495.6" y1="312.6" x2="519" y2="312.6" stroke="#000" stroke-width="0.9"/>
<rect x="441.3" y="326.3" width="9.2" height="9.2" fill="#000" stroke="#000" stroke-width="0.8"/>
<text x="457" y="334.8" font-size="10.6" text-anchor="start" font-family='"Liberation Sans", sans-serif' font-weight="bold">Control</text>
<text x="511" y="334.4" font-size="10.6" text-anchor="middle" font-family='"Liberation Sans", sans-serif' font-weight="bold">+</text>
<rect x="441.7" y="349.6" width="8.4" height="8.4" fill="#fff" stroke="#000" stroke-width="1.25"/>
<text x="457" y="358" font-size="10.6" text-anchor="start" font-family='"Liberation Sans", sans-serif' font-weight="bold">Control</text>
<text x="510.8" y="357" font-size="10.6" text-anchor="middle" font-family='"Liberation Sans", sans-serif' font-weight="bold">-</text>
<circle cx="445.9" cy="390.3" r="4.8" fill="#000" stroke="#000" stroke-width="0.6"/>
<text x="457" y="393.8" font-size="10.6" text-anchor="start" font-family='"Liberation Sans", sans-serif' font-weight="bold">LAD</text>
<text x="511" y="393.8" font-size="10.6" text-anchor="middle" font-family='"Liberation Sans", sans-serif' font-weight="bold">+</text>
<circle cx="445.9" cy="415.9" r="4.18" fill="#fff" stroke="#000" stroke-width="1.25"/>
<text x="457" y="419.6" font-size="10.6" text-anchor="start" font-family='"Liberation Sans", sans-serif' font-weight="bold">LAD</text>
<text x="511.2" y="417.6" font-size="10.6" text-anchor="middle" font-family='"Liberation Sans", sans-serif' font-weight="bold">-</text>
</svg>
</body></html>
